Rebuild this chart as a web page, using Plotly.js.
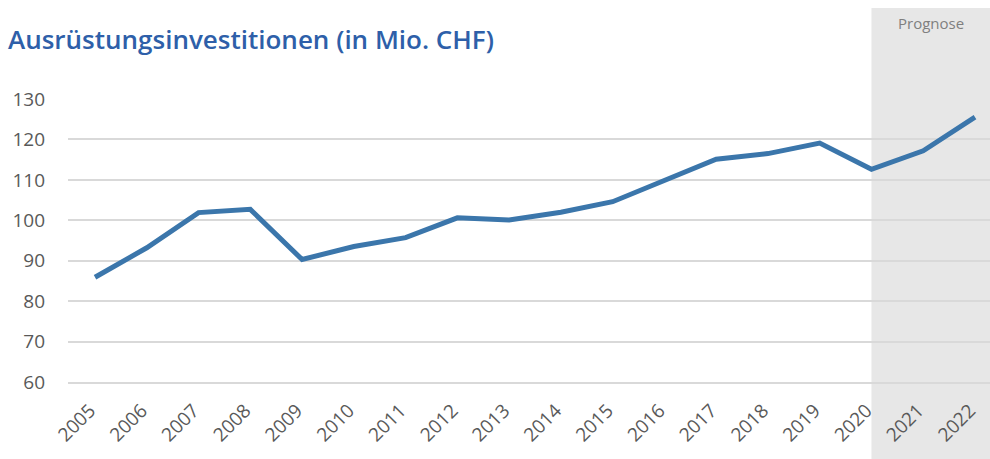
<!DOCTYPE html>
<html><head><meta charset="utf-8">
<script src="https://cdn.plot.ly/plotly-3.0.1.min.js"></script>
<style>html,body{margin:0;padding:0;background:#fff}#chart{width:990px;height:459px}</style>
</head><body><div id="chart"></div>
<script>
const years = [2005,2006,2007,2008,2009,2010,2011,2012,2013,2014,2015,2016,2017,2018,2019,2020,2021,2022];
const values = [85.9,93.2,101.9,102.7,90.3,93.5,95.7,100.6,100.1,102.0,104.6,109.8,115.1,116.5,119.1,112.6,117.2,125.5];
const yTicks = [60,70,80,90,100,110,120,130];
const forecastStart = 2020;
const titleText = 'Ausrüstungsinvestitionen (in Mio. CHF)';
const forecastLabel = 'Prognose';

const trace = {
  x: years, y: values, type: 'scatter', mode: 'lines',
  line: {color: '#3B76AB', width: 5}, hoverinfo: 'skip'
};
const layout = {
  width: 990, height: 459,
  margin: {l: 68, r: 0, t: 99, b: 77},
  paper_bgcolor: '#ffffff', plot_bgcolor: 'rgba(0,0,0,0)',
  showlegend: false,
  title: {text: titleText, x: 8/990, xanchor: 'left', xref: 'container', y: 0.912, yanchor: 'middle', yref: 'container',
          font: {family: 'Open Sans', size: 26, color: '#2E5FA9', weight: 600}},
  xaxis: {
    range: [2004.478, 2022.29], tickmode: 'array', tickvals: years, ticktext: years.map(String),
    tickangle: -45, showgrid: false, zeroline: false, showline: true, linecolor: '#d9d9d9', linewidth: 2,
    ticks: '', ticklabelstandoff: 8, ticklabelshift: -5,
    tickfont: {family: 'Open Sans', size: 19, color: '#595959'}, fixedrange: true
  },
  yaxis: {
    range: [60, 130], tickmode: 'array', tickvals: yTicks, showgrid: true, gridcolor: '#d9d9d9', gridwidth: 2,
    zeroline: false, showline: false, ticks: '', ticklabelstandoff: 22,
    tickfont: {family: 'Open Sans', size: 19, color: '#595959'}, fixedrange: true
  },
  shapes: [{type: 'rect', xref: 'x', yref: 'paper', x0: forecastStart, x1: 2030, y0: -0.28, y1: 1.3216,
            fillcolor: '#e7e7e7', line: {width: 0}, layer: 'below'}],
  annotations: [{text: forecastLabel, xref: 'x', yref: 'paper', x: 2021.15, y: 1.27, showarrow: false,
                 xanchor: 'center', yanchor: 'middle', font: {family: 'Open Sans', size: 15, color: '#7f7f7f'}}]
};
Plotly.newPlot('chart', [trace], layout, {displayModeBar: false, staticPlot: true});
</script></body></html>
